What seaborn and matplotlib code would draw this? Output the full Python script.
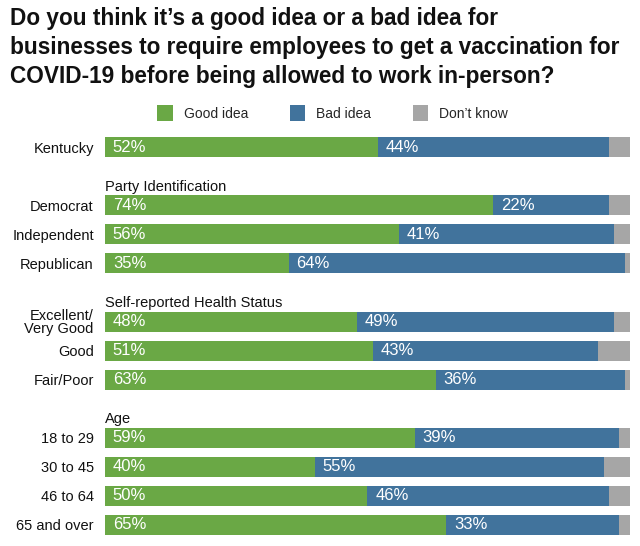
import matplotlib
matplotlib.use("Agg")
import matplotlib.pyplot as plt
import seaborn as sns
import pandas as pd
from matplotlib.patches import Patch

sns.set_theme(style="white")
plt.rcParams['font.family'] = ['Liberation Sans', 'DejaVu Sans']

title = ("Do you think it\u2019s a good idea or a bad idea for\n"
         "businesses to require employees to get a vaccination for\n"
         "COVID-19 before being allowed to work in-person?")

categories = ["Kentucky", "Democrat", "Independent", "Republican",
              "Excellent/\nVery Good", "Good", "Fair/Poor",
              "18 to 29", "30 to 45", "46 to 64", "65 and over"]
good = [52, 74, 56, 35, 48, 51, 63, 59, 40, 50, 65]
bad = [44, 22, 41, 64, 49, 43, 36, 39, 55, 46, 33]
dont_know = [4, 4, 3, 1, 3, 6, 1, 2, 5, 4, 2]
series_names = ["Good idea", "Bad idea", "Don\u2019t know"]
group_headers = ["Party Identification", "Self-reported Health Status", "Age"]

colors = {"Good idea": "#6aa845", "Bad idea": "#41739c", "Don\u2019t know": "#a6a6a6"}

# order with spacer rows for group headers
spacers = ["_s1", "_s2", "_s3"]
order = ["Kentucky", "_s1", "Democrat", "Independent", "Republican", "_s2",
         "Excellent/\nVery Good", "Good", "Fair/Poor", "_s3",
         "18 to 29", "30 to 45", "46 to 64", "65 and over"]

df = pd.DataFrame({"cat": categories, "good": good, "bad": bad, "dk": dont_know})
df["total"] = df["good"] + df["bad"] + df["dk"]
df["gb"] = df["good"] + df["bad"]

fig = plt.figure(figsize=(6.4, 5.46), dpi=100)
ax = fig.add_axes([0.164, 0.012, 0.820, 0.745])

w = 0.69
for col, name in [("total", "Don\u2019t know"), ("gb", "Bad idea"), ("good", "Good idea")]:
    sns.barplot(data=df, y="cat", x=col, order=order, color=colors[name],
                width=w, ax=ax, saturation=1, orient="h", linewidth=0, errorbar=None)

ax.set_xlim(0, 100)
ax.set_xlabel("")
ax.set_ylabel("")
ax.set_xticks([])
for s in ax.spines.values():
    s.set_visible(False)
ax.set_yticks(range(len(order)))
ax.set_yticklabels(["" if o in spacers else o for o in order],
                   fontsize=10.5, color="#111111", linespacing=0.9)
ax.tick_params(axis="y", length=0, pad=8)

pos = {c: i for i, c in enumerate(order)}
for _, r in df.iterrows():
    y = pos[r["cat"]]
    ax.text(1.5, y, f"{r['good']}%", color="white", fontsize=12, va="center", ha="left")
    ax.text(r["good"] + 1.5, y, f"{r['bad']}%", color="white", fontsize=12, va="center", ha="left")

for hdr, sp in zip(group_headers, spacers):
    ax.text(0, pos[sp] + 0.36, hdr, fontsize=10.5, color="#111111", ha="left", va="center")

fig.text(0.016, 0.988, title, fontsize=16.3, fontweight="bold", ha="left", va="top",
         color="#111111", linespacing=1.34)

handles = [Patch(facecolor=colors[n], edgecolor="none") for n in series_names]
fig.legend(handles, series_names, loc="center", bbox_to_anchor=(0.52, 0.793), ncol=3,
           frameon=False, fontsize=10, handlelength=1.1, handleheight=1.4,
           columnspacing=3.0, handletextpad=0.8)

fig.savefig("out.png", dpi=100)
